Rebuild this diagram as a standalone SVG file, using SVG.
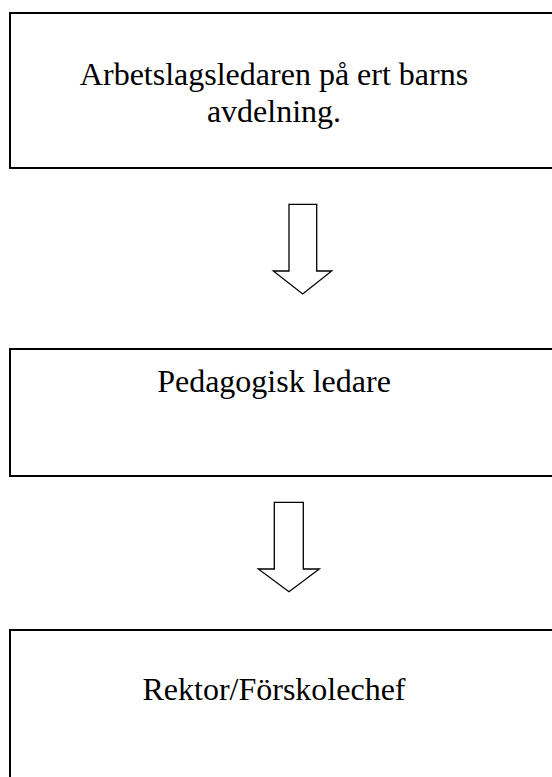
<svg xmlns="http://www.w3.org/2000/svg" width="552" height="777" viewBox="0 0 552 777">
<style>
.box{fill:#fff;stroke:#000;stroke-width:2}
.arr{fill:#fff;stroke:#000;stroke-width:1.3;stroke-linejoin:miter}
.t{font-family:"Liberation Serif","DejaVu Serif",serif;font-size:32px;fill:#000;text-anchor:middle}
</style>
<rect width="552" height="777" fill="#fff"/>
<g id="node1">
<rect class="box" x="10" y="13" width="560" height="155"/>
<text class="t" x="274" y="85">Arbetslagsledaren på ert barns</text>
<text class="t" x="274" y="122">avdelning.</text>
</g>
<g id="node2">
<rect class="box" x="10" y="349" width="560" height="127"/>
<text class="t" x="274" y="392">Pedagogisk ledare</text>
</g>
<g id="node3">
<rect class="box" x="10" y="630" width="560" height="160"/>
<text class="t" x="274" y="700">Rektor/Förskolechef</text>
</g>
<g id="connectors">
<polygon class="arr" points="289,204.3 316.7,204.3 316.7,271 331.7,271 302.7,294 273.3,271 289,271"/>
<polygon class="arr" points="274.3,502.3 303.3,502.3 303.3,569 319.3,569 289,591.7 258.3,569 274.3,569"/>
</g>
</svg>
